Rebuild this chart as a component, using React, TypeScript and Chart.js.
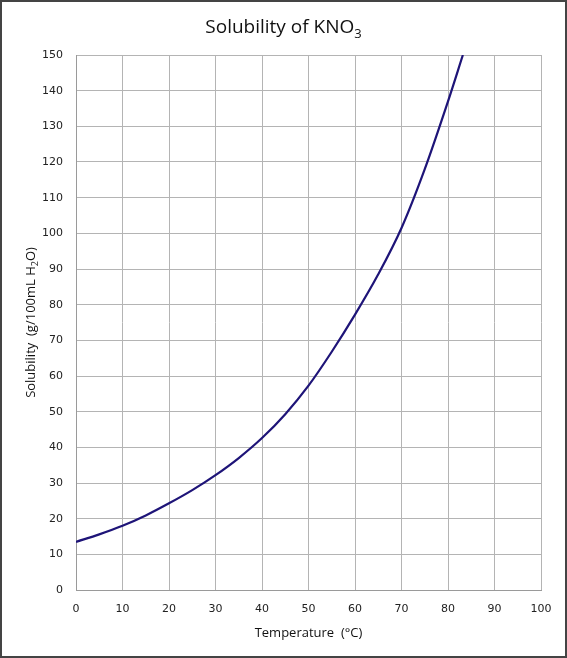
import React, { useEffect, useRef } from "react";
import { Chart, registerables } from "chart.js";

Chart.register(...registerables);

const temperatures = [0, 5, 10, 15, 20, 25, 30, 35, 40, 45, 50, 55, 60, 65, 70, 75, 80, 83.2];
const solubility = [13.5, 15.6, 18, 20.9, 24.3, 28, 32.2, 37, 42.6, 49.3, 57.3, 66.8, 77.2, 88.5, 101.5, 118, 137, 150];

const titleParts = [{ t: "Solubility of KNO" }, { t: "3", sub: true }];
const yTitleParts = [{ t: "Solubility  (g/100mL H" }, { t: "2", sub: true }, { t: "O)" }];
const xTitleParts = [{ t: "Temperature  (°C)" }];

type Part = { t: string; sub?: boolean };

function drawParts(ctx: CanvasRenderingContext2D, parts: Part[], cx: number, y: number, size: number, family: string) {
  const mainFont = `${size}px ${family}`;
  const subFont = `${Math.round(size * 0.7)}px ${family}`;
  let total = 0;
  const widths = parts.map((p) => {
    ctx.font = p.sub ? subFont : mainFont;
    const w = ctx.measureText(p.t).width;
    total += w;
    return w;
  });
  let x = cx - total / 2;
  ctx.textAlign = "left";
  ctx.textBaseline = "alphabetic";
  parts.forEach((p, i) => {
    ctx.font = p.sub ? subFont : mainFont;
    ctx.fillText(p.t, x, p.sub ? y + size * 0.25 : y);
    x += widths[i];
  });
}

const textPlugin = {
  id: "textPlugin",
  afterDraw(chart: any) {
    const ctx = chart.ctx as CanvasRenderingContext2D;
    const area = chart.chartArea;
    ctx.save();
    ctx.strokeStyle = "#444";
    ctx.lineWidth = 2;
    ctx.strokeRect(1, 1, chart.width - 2, chart.height - 2);
    ctx.fillStyle = "#111";
    drawParts(ctx, titleParts, chart.width / 2, 33, 19, "'Open Sans', sans-serif");
    drawParts(ctx, xTitleParts, (area.left + area.right) / 2, 637, 13, "'Open Sans', sans-serif");
    ctx.translate(35, (area.top + area.bottom) / 2);
    ctx.rotate(-Math.PI / 2);
    drawParts(ctx, yTitleParts, 0, 0, 13, "'Open Sans', sans-serif");
    ctx.restore();
  },
};

export default function App() {
  const ref = useRef<HTMLCanvasElement | null>(null);
  useEffect(() => {
    if (!ref.current) return;
    const chart = new Chart(ref.current, {
      type: "line",
      data: {
        datasets: [
          {
            data: temperatures.map((t, i) => ({ x: t, y: solubility[i] })),
            borderColor: "#1e1478",
            borderWidth: 2.2,
            pointRadius: 0,
            cubicInterpolationMode: "monotone",
            fill: false,
          },
        ],
      },
      options: {
        animation: false,
        responsive: true,
        maintainAspectRatio: false,
        layout: { padding: { left: 0, right: 26, top: 55, bottom: 0 } },
        plugins: { legend: { display: false }, title: { display: false }, tooltip: { enabled: false } },
        scales: {
          x: {
            type: "linear",
            min: 0,
            max: 100,
            ticks: { stepSize: 10, color: "#222", font: { family: "'DejaVu Sans', sans-serif", size: 11 }, padding: 13, maxRotation: 0 },
            grid: { color: "#b4b4b4", drawTicks: false, lineWidth: 1 },
            border: { color: "#9a9a9a" },
            afterFit: (s: any) => {
              s.height = 68;
            },
          },
          y: {
            type: "linear",
            min: 0,
            max: 150,
            ticks: { stepSize: 10, color: "#222", font: { family: "'DejaVu Sans', sans-serif", size: 11 }, padding: 13 },
            grid: { color: "#b4b4b4", drawTicks: false, lineWidth: 1 },
            border: { color: "#9a9a9a" },
            afterFit: (s: any) => {
              s.width = 76;
            },
          },
        },
      },
      plugins: [textPlugin],
    });
    return () => chart.destroy();
  }, []);
  return (
    <div style={{ position: "fixed", left: 0, top: 0, width: 567, height: 658, background: "#fff" }}>
      <canvas ref={ref} />
    </div>
  );
}
